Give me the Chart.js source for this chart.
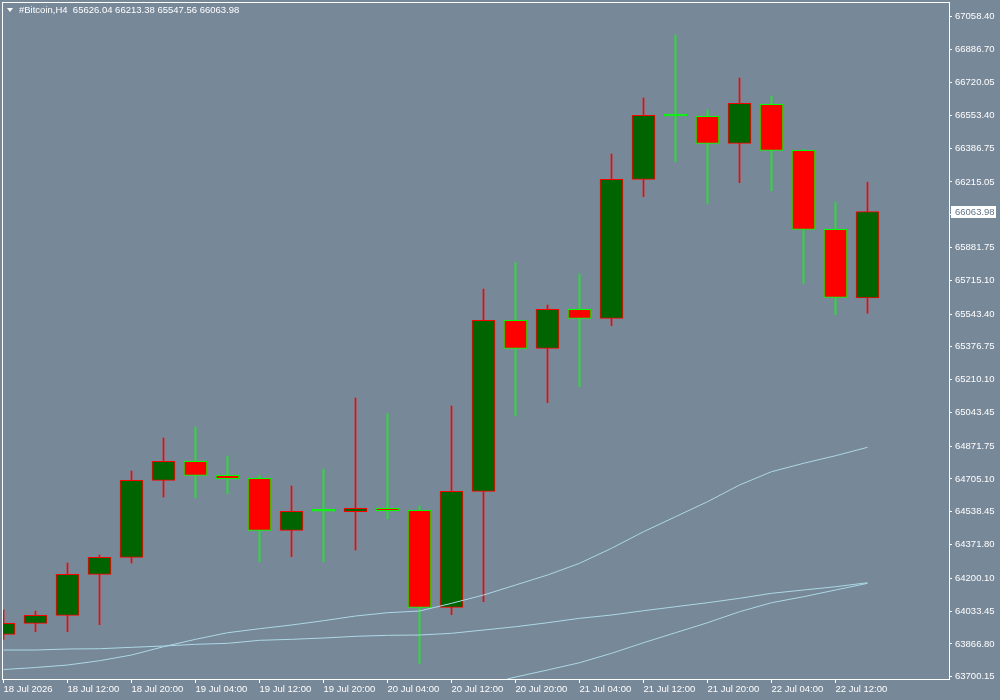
<!DOCTYPE html>
<html lang="en">
<head>
  <meta charset="UTF-8" />
  <title>#Bitcoin,H4</title>
  <script src="https://cdn.jsdelivr.net/npm/chart.js"></script>
  <style>
    html, body { margin: 0; padding: 0; background: #778899; }
    #wrap { position: relative; width: 1000px; height: 700px; }
    #head {
      position: absolute; left: 19px; top: 4px;
      font: 9.5px 'Liberation Sans', sans-serif;
      color: #fff; white-space: pre;
    }
    #tri {
      position: absolute; left: 7px; top: 8px; width: 0; height: 0;
      border-left: 3.5px solid transparent; border-right: 3.5px solid transparent;
      border-top: 4px solid #fff;
    }
  </style>
</head>
<body>
  <div id="wrap">
    <canvas id="chart" width="1000" height="700"></canvas>
    <div id="tri"></div>
    <div id="head"></div>
  </div>

  <script>
    const symbol = '#Bitcoin,H4';

    // H4 candles, oldest first
    const opens  = [63915.6, 63971.5, 64012.1, 64220.6, 64307.0, 64698.4, 64794.9, 64723.8, 64708.5, 64444.2,
                    64541.0, 64538.8, 64556.0, 64545.9, 64052.8, 64642.4, 65511.6, 65369.3, 65567.6, 65521.8,
                    66228.3, 66550.1, 66548.6, 66411.3, 66609.6, 66375.8, 65974.2, 65626.04];
    const highs  = [64039.1, 64034.0, 64278.0, 64318.7, 64745.6, 64913.4, 64969.3, 64821.9, 64723.8, 64669.4,
                    64755.8, 65116.7, 65036.9, 64567.7, 65076.0, 65670.7, 65804.4, 65589.4, 65747.0, 66356.9,
                    66641.6, 66961.8, 66580.6, 66743.3, 66651.8, 66380.8, 66113.0, 66213.38];
    const lows   = [63890.2, 63928.8, 63928.8, 63964.4, 64278.0, 64613.5, 64609.9, 64630.2, 64284.6, 64310.0,
                    64284.6, 64344.1, 64503.2, 63768.2, 64015.2, 64081.3, 65025.2, 65092.8, 65174.1, 65484.2,
                    66139.9, 66317.8, 66106.4, 66211.1, 66170.4, 65699.7, 65540.1, 65547.56];
    const closes = [63971.5, 64012.1, 64220.6, 64307.0, 64698.4, 64794.9, 64723.8, 64706.5, 64444.2, 64540.8,
                    64541.0, 64556.0, 64543.8, 64052.8, 64642.4, 65511.6, 65369.3, 65567.6, 65521.8, 66228.3,
                    66553.7, 66550.1, 66411.3, 66614.7, 66375.8, 65974.2, 65628.6, 66063.98];

    // moving averages
    const maFast = [63736.7, 63746.8, 63759.5, 63781.4, 63810.4, 63852.6, 63890.2, 63923.7, 63944.0, 63962.9,
                    63984.7, 64008.6, 64025.4, 64034.0, 64073.2, 64115.3, 64166.2, 64217.0, 64276.5, 64352.7,
                    64437.1, 64513.3, 64589.6, 64674.5, 64742.1, 64784.8, 64823.4, 64866.1];
    const maSlow = [63835.8, 63835.8, 63840.9, 63842.4, 63849.5, 63856.1, 63864.8, 63869.8, 63885.1, 63890.2,
                    63896.8, 63905.4, 63910.5, 63912.0, 63920.7, 63937.4, 63954.2, 63974.5, 63996.9, 64013.7,
                    64035.5, 64055.9, 64076.2, 64098.6, 64124.0, 64140.8, 64157.5, 64177.9];
    const maMid  = [null, null, null, null, null, null, null, null, null, null,
                    null, null, null, null, 63617.2, 63657.9, 63698.5, 63734.1, 63771.2, 63819.0,
                    63872.9, 63923.7, 63974.5, 64030.4, 64076.2, 64106.7, 64140.8, 64174.8];

    // axis labels
    const timeTicks = ['18 Jul 2026', '18 Jul 12:00', '18 Jul 20:00', '19 Jul 04:00', '19 Jul 12:00', '19 Jul 20:00',
                       '20 Jul 04:00', '20 Jul 12:00', '20 Jul 20:00', '21 Jul 04:00', '21 Jul 12:00', '21 Jul 20:00',
                       '22 Jul 04:00', '22 Jul 12:00'];
    const priceTicks = [67058.40, 66886.70, 66720.05, 66553.40, 66386.75, 66215.05, 66048.40, 65881.75, 65715.10,
                        65543.40, 65376.75, 65210.10, 65043.45, 64871.75, 64705.10, 64538.45, 64371.80, 64200.10,
                        64033.45, 63866.80, 63700.15];

    const last = closes.length - 1;
    document.getElementById('head').textContent =
      `${symbol}  ${opens[last].toFixed(2)} ${highs[last].toFixed(2)} ${lows[last].toFixed(2)} ${closes[last].toFixed(2)}`;

    const font = { family: "'Liberation Sans', sans-serif", size: 9.5 };
    const isBull = i => closes[i] > opens[i];
    const isDoji = i => closes[i] === opens[i];

    const frame = {
      id: 'frame',
      afterDraw(chart) {
        const { ctx, chartArea: a, scales } = chart;
        ctx.save();
        ctx.strokeStyle = '#fff';
        ctx.lineWidth = 1;
        ctx.strokeRect(a.left + 0.5, a.top + 0.5, a.right - a.left, a.bottom - a.top);
        // current price box
        const y = Math.round(scales.y.getPixelForValue(closes[last]));
        ctx.fillStyle = '#fff';
        ctx.fillRect(a.right + 2, y - 6, 45, 12);
        ctx.fillStyle = '#5f7387';
        ctx.font = `${font.size}px ${font.family}`;
        ctx.textBaseline = 'middle';
        ctx.fillText(closes[last].toFixed(2), a.right + 6, y + 0.5);
        ctx.restore();
      }
    };

    new Chart(document.getElementById('chart'), {
      type: 'bar',
      data: {
        datasets: [
          {
            type: 'line', order: 0, clip: 0,
            data: maFast.map((v, i) => ({ x: i, y: v })),
            borderColor: '#add8e6', borderWidth: 1, pointRadius: 0, tension: 0
          },
          {
            type: 'line', order: 0, clip: 0,
            data: maSlow.map((v, i) => ({ x: i, y: v })),
            borderColor: '#add8e6', borderWidth: 1, pointRadius: 0, tension: 0
          },
          {
            type: 'line', order: 0, clip: 0,
            data: maMid.map((v, i) => ({ x: i, y: v })),
            borderColor: '#add8e6', borderWidth: 1, pointRadius: 0, tension: 0, spanGaps: false
          },
          {
            // bodies
            order: 1, clip: 0, grouped: false,
            data: opens.map((o, i) => ({ x: i, y: [o, closes[i]] })),
            barThickness: 23, minBarLength: 2, borderWidth: 1, borderSkipped: false,
            backgroundColor: c => isDoji(c.dataIndex) ? '#00ff00' : (isBull(c.dataIndex) ? '#006400' : '#ff0000'),
            borderColor: c => isBull(c.dataIndex) ? '#ff0000' : '#00ff00'
          },
          {
            // wicks
            order: 2, clip: 0, grouped: false,
            data: lows.map((l, i) => ({ x: i, y: [l, highs[i]] })),
            barThickness: 1, borderWidth: 0,
            backgroundColor: c => isBull(c.dataIndex) ? '#ff0000' : '#00ff00'
          }
        ]
      },
      options: {
        responsive: false,
        animation: false,
        layout: { padding: { left: 2, top: 2, right: 0, bottom: 0 } },
        plugins: { legend: { display: false }, tooltip: { enabled: false } },
        scales: {
          x: {
            type: 'linear',
            offset: false,
            min: -0.046875,
            max: 29.546875,
            afterBuildTicks: s => { s.ticks = timeTicks.map((_, j) => ({ value: j * 2 })); },
            afterFit: s => { s.height = 21; s.paddingLeft = 0; s.paddingRight = 0; },
            ticks: {
              callback: (v, i) => timeTicks[i],
              color: '#fff', font, align: 'start', maxRotation: 0, autoSkip: false, padding: 1
            },
            grid: { drawOnChartArea: false, offset: false, tickLength: 4, color: '#fff' },
            border: { color: '#fff' }
          },
          y: {
            type: 'linear',
            position: 'right',
            min: 63688.5,
            max: 67129.6,
            afterBuildTicks: s => { s.ticks = priceTicks.map(v => ({ value: v })); },
            afterFit: s => { s.width = 51; s.paddingTop = 0; s.paddingBottom = 0; },
            ticks: {
              callback: v => Number(v).toFixed(2),
              color: '#fff', font, crossAlign: 'near', padding: 3
            },
            grid: { drawOnChartArea: false, tickLength: 3, color: '#fff' },
            border: { color: '#fff' }
          }
        }
      },
      plugins: [frame]
    });
  </script>
</body>
</html>
